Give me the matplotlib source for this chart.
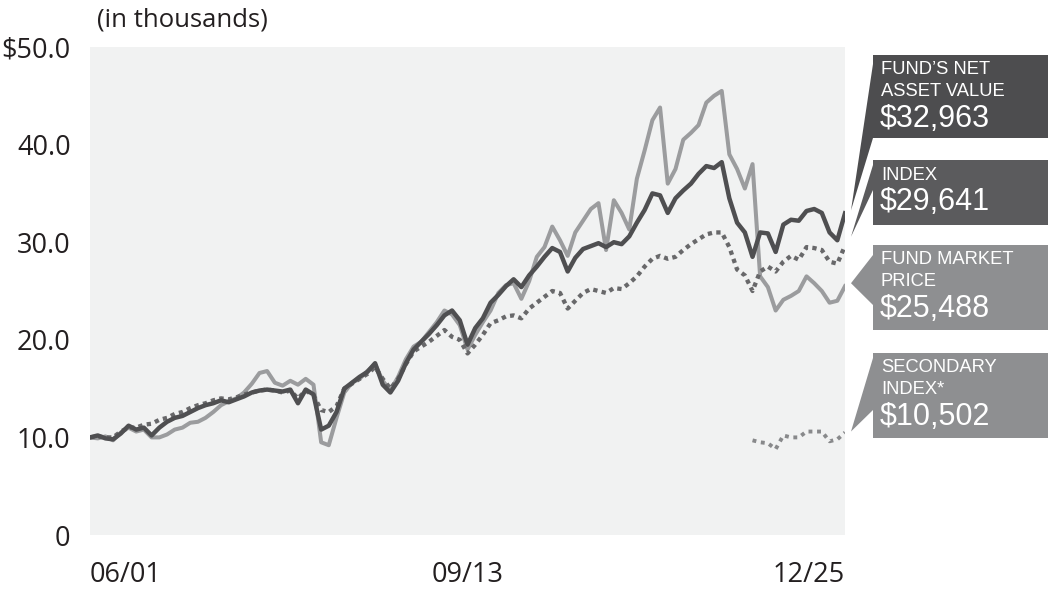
import matplotlib
matplotlib.use('Agg')
import matplotlib.pyplot as plt
import matplotlib.dates as mdates
from matplotlib.patches import Polygon
import numpy as np
import pandas as pd

# quarterly readings, 06/2001 .. 12/2025 (values in $ thousands)
dates = pd.date_range('2001-06-01', '2025-12-01', freq='3MS')

nav = [10.0, 10.2, 9.9, 9.8, 10.4, 11.2, 10.8, 11.0, 10.2, 11.0,
       11.6, 12.0, 12.2, 12.6, 13.0, 13.3, 13.5, 13.8, 13.6, 13.9,
       14.2, 14.6, 14.8, 14.9, 14.8, 14.7, 14.9, 13.5, 14.9, 14.4,
       10.8, 11.2, 12.6, 15.0, 15.6, 16.2, 16.7, 17.6, 15.4, 14.6,
       15.8, 17.6, 19.0, 19.8, 20.6, 21.5, 22.5, 23.0, 22.0, 19.5,
       21.2, 22.2, 23.8, 24.6, 25.5, 26.2, 25.4, 26.6, 27.5, 28.5,
       29.4, 29.0, 27.0, 28.4, 29.3, 29.6, 29.9, 29.5, 30.0, 29.8,
       30.6, 32.0, 33.3, 35.0, 34.8, 33.0, 34.5, 35.3, 36.0, 37.0,
       37.8, 37.6, 38.2, 34.5, 32.0, 31.0, 28.5, 31.0, 30.9, 29.0,
       31.8, 32.3, 32.2, 33.2, 33.4, 33.0, 31.0, 30.2, 32.96]

market = [10.0, 9.9, 10.1, 9.7, 10.5, 11.0, 10.6, 10.8, 10.0, 10.0,
          10.3, 10.8, 11.0, 11.5, 11.6, 12.0, 12.6, 13.3, 13.7, 14.0,
          14.6, 15.5, 16.6, 16.8, 15.6, 15.3, 15.8, 15.4, 16.0, 15.4,
          9.5, 9.2, 12.0, 14.6, 15.6, 16.0, 16.8, 17.5, 15.8, 14.8,
          16.2, 18.0, 19.3, 19.8, 20.8, 21.8, 23.0, 22.6, 21.5, 19.0,
          20.5, 21.8, 23.0, 24.8, 25.6, 25.8, 24.2, 26.0, 28.5, 29.5,
          31.6, 30.2, 28.6, 31.0, 32.2, 33.4, 34.0, 29.2, 34.3, 33.0,
          31.3, 36.5, 39.4, 42.5, 43.8, 36.0, 37.5, 40.5, 41.2, 42.0,
          44.3, 45.0, 45.5, 39.0, 37.5, 35.5, 38.0, 26.5, 25.4, 23.0,
          24.1, 24.5, 25.0, 26.5, 25.8, 25.0, 23.8, 24.0, 25.49]

index = [10.0, 10.1, 10.0, 10.0, 10.6, 11.0, 11.0, 11.3, 11.4, 11.8,
         12.0, 12.4, 12.6, 13.0, 13.3, 13.5, 13.8, 14.0, 13.9, 14.1,
         14.4, 14.6, 14.8, 14.9, 14.8, 14.6, 14.8, 14.0, 14.8, 14.3,
         12.8, 12.6, 13.2, 15.0, 15.5, 16.0, 16.5, 17.2, 16.0, 15.0,
         16.0, 17.5, 18.8, 19.3, 19.8, 20.4, 21.0, 20.3, 20.0, 18.6,
         19.5, 20.5, 21.7, 22.0, 22.4, 22.5, 22.2, 23.2, 23.8, 24.4,
         25.0, 24.8, 23.2, 24.0, 24.8, 25.2, 25.0, 24.8, 25.3, 25.2,
         25.8, 26.5, 27.5, 28.3, 28.6, 28.3, 28.5, 29.2, 29.8, 30.3,
         30.8, 31.0, 31.0, 29.5, 27.2, 26.6, 25.0, 27.0, 27.5, 27.0,
         28.0, 28.6, 28.2, 29.5, 29.4, 29.2, 28.0, 27.8, 29.64]

sec_dates = pd.date_range('2022-12-01', '2025-12-01', freq='3MS')
secondary = [9.7, 9.5, 9.4, 8.8, 10.2, 10.0, 10.0, 10.6, 10.6, 10.6,
             9.6, 9.8, 10.50]

y_ticks = [0, 10, 20, 30, 40, 50]
y_labels = ['0', '10.0', '20.0', '30.0', '40.0', '$50.0']
x_ticks = ['2001-06-01', '2013-09-01', '2025-12-01']
x_labels = ['06/01', '09/13', '12/25']

callouts = [
    (['FUND\u2019S NET', 'ASSET VALUE'], '$32,963'),
    (['INDEX'], '$29,641'),
    (['FUND MARKET', 'PRICE'], '$25,488'),
    (['SECONDARY', 'INDEX*'], '$10,502'),
]

W, H = 1050, 591
plt.rcParams['font.family'] = ['Open Sans', 'DejaVu Sans']

fig = plt.figure(figsize=(W / 100, H / 100), dpi=100)
ax = fig.add_axes([90 / W, 1 - 535 / H, 755 / W, 488 / H])
ax.set_facecolor('#f1f2f2')

ax.plot(dates, market, color='#9b9c9e', lw=2.9, zorder=2)
ax.plot(dates, index, color='#68686a', lw=3.1, ls=(0, (1, 1.0)),
        dash_capstyle='butt', zorder=3)
ax.plot(dates, nav, color='#4f4f51', lw=3.2, zorder=4)
ax.plot(sec_dates, secondary, color='#88898b', lw=2.8, ls=(0, (1, 1.2)),
        dash_capstyle='butt', zorder=3)

ax.set_xlim(dates[0], dates[-1])
ax.set_ylim(0, 50)
ax.set_yticks(y_ticks)
ax.set_yticklabels(y_labels)
ax.set_xticks(pd.to_datetime(x_ticks))
ax.set_xticklabels(x_labels)
for s in ax.spines.values():
    s.set_visible(False)
ax.tick_params(length=0, labelsize=19.5, colors='#231f20')
ax.tick_params(axis='y', pad=14)
ax.tick_params(axis='x', pad=19)
xl = ax.get_xticklabels()
xl[0].set_ha('left')
xl[-1].set_ha('right')

fig.text(97 / W, 1 - 20 / H, '(in thousands)', fontsize=18.5,
         color='#231f20', va='center', ha='left')


def fpx(x, y):
    return (x / W, 1 - y / H)


# callout boxes at the right
boxes = [(55, 138, '#4d4d4f', (64, 138)),
         (160, 225, '#5b5b5d', (165, 190)),
         (245, 330, '#8e8f91', (255, 305)),
         (353, 438, '#8e8f91', (358, 410))]
ends = [(dates[-1], nav[-1]), (dates[-1], index[-1]),
        (dates[-1], market[-1]), (sec_dates[-1], secondary[-1])]
tip_dy = [3, 9, 3, 1]
inv = fig.transFigure.inverted()
for (top, bot, col, (p1, p2)), (lines, val), end, dy in zip(boxes, callouts, ends, tip_dy):
    fig.patches.append(Polygon([fpx(873, top), fpx(1048, top), fpx(1048, bot), fpx(873, bot)],
                               closed=True, transform=fig.transFigure, color=col, lw=0))
    ex, ey = ax.transData.transform((mdates.date2num(end[0]), end[1]))
    tip = inv.transform((ex + 6, ey + dy))
    fig.patches.append(Polygon([fpx(873, p1), fpx(873, p2), tip],
                               closed=True, transform=fig.transFigure, color=col, lw=0))
    y = top + 15
    for ln in lines:
        fig.text(881 / W, 1 - y / H, ln, family='Liberation Sans', fontsize=13.2,
                 color='white', va='center', ha='left')
        y += 22
    fig.text(880 / W, 1 - (y + 5) / H, val, family='Liberation Sans', fontsize=22,
             color='white', va='center', ha='left')

plt.savefig('out.png', dpi=100)
plt.close()
